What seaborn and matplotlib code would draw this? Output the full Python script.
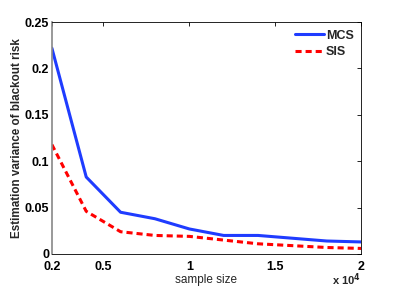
import pandas as pd
import seaborn as sns
import matplotlib.pyplot as plt

sample_size = [2000, 4000, 6000, 8000, 10000, 12000, 14000, 16000, 18000, 20000]
mcs = [0.222, 0.083, 0.045, 0.038, 0.027, 0.020, 0.020, 0.017, 0.014, 0.013]
sis = [0.118, 0.046, 0.024, 0.020, 0.019, 0.015, 0.011, 0.009, 0.007, 0.006]

df = pd.DataFrame({
    'sample size': sample_size * 2,
    'variance': mcs + sis,
    'method': ['MCS'] * len(mcs) + ['SIS'] * len(sis),
})

sns.set_style('white')
plt.rcParams['font.family'] = ['Liberation Sans', 'DejaVu Sans']
plt.rcParams['xtick.direction'] = 'in'
plt.rcParams['ytick.direction'] = 'in'

fig = plt.figure(figsize=(3.99, 2.87), dpi=100)
ax = fig.add_axes([0.130, 0.115, 0.775, 0.808])

sns.lineplot(data=df, x='sample size', y='variance', hue='method', style='method',
             palette={'MCS': '#1f3cff', 'SIS': '#ff0000'},
             dashes={'MCS': '', 'SIS': (2, 1.3)}, linewidth=2.2, ax=ax)

ax.set_xlim(2000, 20000)
ax.set_ylim(0, 0.25)
ax.set_xticks([2000, 5000, 10000, 15000, 20000])
ax.set_xticklabels(['0.2', '0.5', '1', '1.5', '2'], fontweight='bold', fontsize=9)
ax.set_yticks([0, 0.05, 0.1, 0.15, 0.2, 0.25])
ax.set_yticklabels(['0', '0.05', '0.1', '0.15', '0.2', '0.25'], fontweight='bold', fontsize=9)
ax.tick_params(top=True, right=True, length=3, width=0.6, colors='black')
ax.tick_params(axis='x', pad=5)
ax.tick_params(axis='y', pad=2)
for s in ax.spines.values():
    s.set_linewidth(0.6)
    s.set_color('black')
ax.spines['left'].set_color('#888888')
ax.spines['left'].set_linewidth(1.2)

ax.set_xlabel('sample size', fontsize=8.5, labelpad=1)
ax.set_ylabel('Estimation variance of blackout risk', fontsize=8.4, fontweight='bold', labelpad=1)
ax.text(1.0, -0.111, r'x 10$^{\mathbf{4}}$', transform=ax.transAxes, ha='right', va='center',
        fontsize=8, fontweight='bold')

leg = ax.legend(title=None, frameon=False, loc='upper right', fontsize=9,
                handlelength=2.3, handletextpad=0.15, borderaxespad=0.2, labelspacing=0.35)
for t in leg.get_texts():
    t.set_fontweight('bold')

fig.savefig('out.png', dpi=100)
